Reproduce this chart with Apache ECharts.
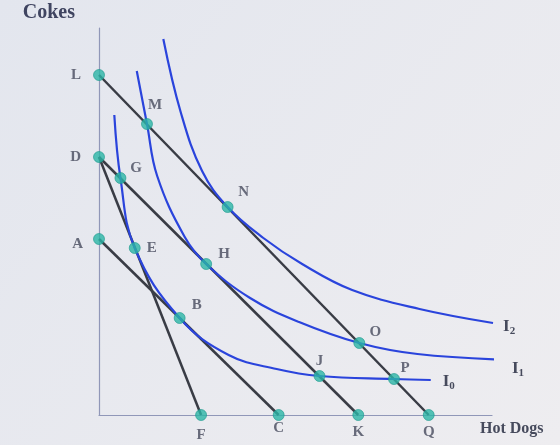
<!DOCTYPE html>
<html>
<head>
<meta charset="UTF-8">
<title>Cokes and Hot Dogs</title>
<script src="https://cdn.jsdelivr.net/npm/echarts@6/dist/echarts.min.js"></script>
<style>
  html, body { margin: 0; padding: 0; }
  #main { width: 560px; height: 445px; }
</style>
</head>
<body>
<div id="main"></div>
<script type="text/javascript">
// budget lines (end points on the axes)
var lineLQ = [[0, 34.0], [32.3, 0]];
var lineDK = [[0, 25.8], [25.4, 0]];
var lineDF = [[0, 25.8], [10.0, 0]];
var lineAC = [[0, 17.6], [17.6, 0]];

// indifference curves
var curveI0 = [[1.5, 30.0], [2.1, 23.7], [3.5, 16.7], [7.9, 9.7], [12.7, 6.0], [17.4, 4.6], [21.6, 3.9], [28.9, 3.6], [32.5, 3.5]];
var curveI1 = [[3.7, 34.4], [4.7, 29.1], [5.7, 23.9], [8.4, 17.8], [10.5, 15.1], [14.8, 11.7], [19.6, 9.3], [25.5, 7.2], [31.2, 6.1], [40.6, 5.5]];
var curveI2 = [[6.3, 37.6], [8.0, 30.3], [10.1, 24.4], [12.6, 20.8], [16.1, 17.7], [19.9, 15.1], [24.8, 12.5], [31.4, 10.6], [38.6, 9.2]];

// labelled points: name, hot dogs, cokes
var points = [
  ['L', 0, 34.0], ['M', 4.7, 29.1], ['N', 12.6, 20.8], ['O', 25.5, 7.2], ['P', 28.9, 3.6], ['Q', 32.3, 0],
  ['D', 0, 25.8], ['G', 2.1, 23.7], ['H', 10.5, 15.1], ['J', 21.6, 3.9], ['K', 25.4, 0],
  ['E', 3.5, 16.7], ['F', 10.0, 0],
  ['A', 0, 17.6], ['B', 7.9, 9.7], ['C', 17.6, 0]
];

// where each point's letter sits
var labelPlace = {
  L: { position: 'left', distance: 12 },
  M: { position: 'top', offset: [8, 0] },
  N: { position: 'top', offset: [16, 4] },
  O: { position: 'top', offset: [16, 8] },
  P: { position: 'top', offset: [11, 8] },
  Q: { position: 'bottom', distance: 4 },
  D: { position: 'left', distance: 12 },
  G: { position: 'right', distance: 4, offset: [0, -10] },
  H: { position: 'top', offset: [18, 9] },
  J: { position: 'top', distance: 1 },
  K: { position: 'bottom', distance: 4 },
  E: { position: 'right', distance: 6 },
  F: { position: 'bottom', distance: 7 },
  A: { position: 'left', distance: 10, offset: [0, 5] },
  B: { position: 'top', offset: [17, 6] },
  C: { position: 'bottom', distance: 0 }
};

var serif = '"Liberation Serif", "Times New Roman", serif';
var textColor = '#464a5c';
var blue = '#2a44dc';
var dark = '#393c45';

var myChart = echarts.init(document.getElementById('main'));

function budget(data) {
  return {
    type: 'line', data: data, symbol: 'none', clip: false, z: 2,
    lineStyle: { color: dark, width: 2.5 }, silent: true
  };
}

function curve(data, sub, offset) {
  return {
    type: 'line', data: data, symbol: 'none', smooth: 0.4, clip: false, z: 3,
    lineStyle: { color: blue, width: 2.2 }, silent: true,
    endLabel: {
      show: true,
      offset: offset,
      formatter: 'I{s|' + sub + '}',
      fontFamily: serif, fontWeight: 'bold', fontSize: 17, color: textColor,
      rich: { s: { fontFamily: serif, fontWeight: 'bold', fontSize: 11, color: textColor, verticalAlign: 'bottom', padding: [8, 0, 0, 0] } }
    }
  };
}

var pointData = points.map(function (p) {
  var place = labelPlace[p[0]];
  return {
    name: p[0],
    value: [p[1], p[2]],
    label: {
      show: true,
      formatter: p[0],
      position: place.position,
      distance: place.distance !== undefined ? place.distance : 5,
      offset: place.offset || [0, 0]
    }
  };
});

var option = {
  backgroundColor: {
    type: 'linear', x: 0, y: 0, x2: 1, y2: 1,
    colorStops: [{ offset: 0, color: '#e3e6ee' }, { offset: 1, color: '#eeedf0' }]
  },
  animation: false,
  grid: { left: 99, right: 68, top: 28, bottom: 30 },
  xAxis: {
    type: 'value', min: 0, max: 38.5,
    name: 'Hot Dogs', nameLocation: 'end', nameGap: -12,
    nameTextStyle: { fontFamily: serif, fontWeight: 'bold', fontSize: 16, color: textColor, align: 'left', verticalAlign: 'top', padding: [6, 0, 0, 0] },
    axisLine: { lineStyle: { color: '#9097b8', width: 1.2 } },
    axisTick: { show: false }, axisLabel: { show: false }, splitLine: { show: false }
  },
  yAxis: {
    type: 'value', min: 0, max: 38.7,
    name: 'Cokes', nameLocation: 'end', nameGap: 5,
    nameTextStyle: { fontFamily: serif, fontWeight: 'bold', fontSize: 20, color: '#3f4460', align: 'right', verticalAlign: 'bottom', padding: [0, 24, 0, 0] },
    axisLine: { lineStyle: { color: '#9097b8', width: 1.2 } },
    axisTick: { show: false }, axisLabel: { show: false }, splitLine: { show: false }
  },
  series: [
    budget(lineLQ),
    budget(lineDK),
    budget(lineDF),
    budget(lineAC),
    curve(curveI0, '0', [4, 2]),
    curve(curveI1, '1', [10, 10]),
    curve(curveI2, '2', [2, 4]),
    {
      type: 'scatter', data: pointData, symbolSize: 11, z: 5, clip: false,
      itemStyle: { color: '#2bb5a6', borderColor: '#1e9a8e', borderWidth: 0.8 },
      label: { fontFamily: serif, fontWeight: 'bold', fontSize: 15, color: textColor }
    }
  ]
};

myChart.setOption(option);
</script>
</body>
</html>
